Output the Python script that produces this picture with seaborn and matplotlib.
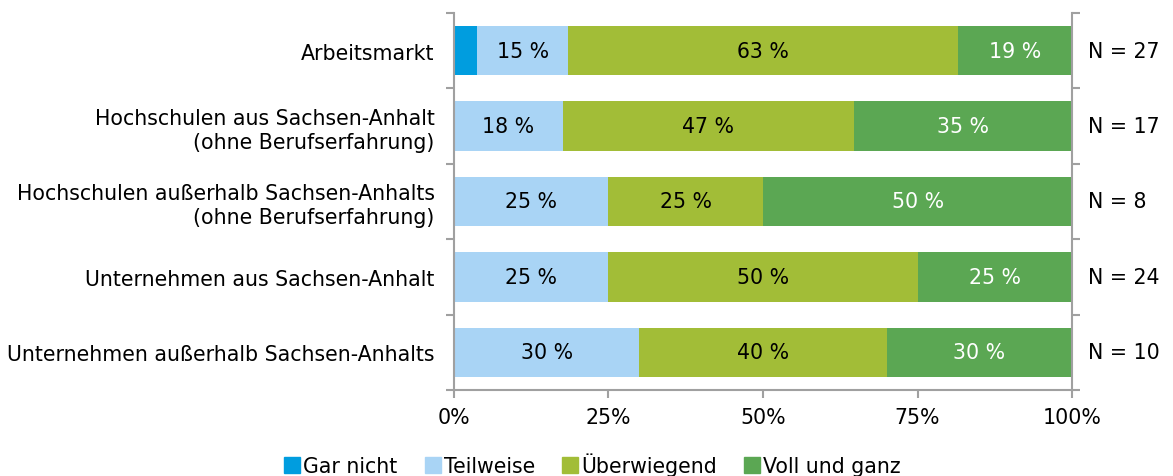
import numpy as np
import pandas as pd
import matplotlib
matplotlib.use("Agg")
import matplotlib.pyplot as plt
import matplotlib.transforms as mtransforms
from matplotlib.lines import Line2D
from matplotlib.ticker import FixedLocator
import seaborn as sns

categories = ["Arbeitsmarkt",
              "Hochschulen aus Sachsen-Anhalt\n(ohne Berufserfahrung)",
              "Hochschulen außerhalb Sachsen-Anhalts\n(ohne Berufserfahrung)",
              "Unternehmen aus Sachsen-Anhalt",
              "Unternehmen außerhalb Sachsen-Anhalts"]
series = ["Gar nicht", "Teilweise", "Überwiegend", "Voll und ganz"]
# counts per answer
gar_nicht = [1, 0, 0, 0, 0]
teilweise = [4, 3, 2, 6, 3]
ueberwiegend = [17, 8, 2, 12, 4]
voll_und_ganz = [5, 6, 4, 6, 3]
n_total = [27, 17, 8, 24, 10]

colors = ["#009ddf", "#a9d4f5", "#a2bd37", "#5ba753"]
text_colors = ["black", "black", "black", "white"]
axis_gray = "#a0a0a0"

plt.rcParams["font.family"] = ["DejaVu Sans"]
fs = 14.8

df = pd.DataFrame({"cat": categories, "Gar nicht": gar_nicht, "Teilweise": teilweise,
                   "Überwiegend": ueberwiegend, "Voll und ganz": voll_und_ganz, "N": n_total})
shares = df[series].div(df["N"], axis=0) * 100
cum = shares.cumsum(axis=1)

fig, ax = plt.subplots(figsize=(11.73, 4.77), dpi=100)
fig.subplots_adjust(left=0.387, right=0.914, top=0.971, bottom=0.180)

# draw cumulative totals from the largest down so the layers stack
for s, c in reversed(list(zip(series, colors))):
    sns.barplot(x=cum[s], y=df["cat"], color=c, orient="h", width=0.66,
                saturation=1, ax=ax, linewidth=0)

# percent labels
for i in range(len(categories)):
    for j, s in enumerate(series):
        v = shares.loc[i, s]
        if v >= 10:
            ax.text(cum.loc[i, s] - v / 2, i, f"{v:.0f} %", ha="center", va="center",
                    fontsize=fs, color=text_colors[j])

trans = mtransforms.blended_transform_factory(ax.transAxes, ax.transData)
for i, n in enumerate(n_total):
    ax.text(1.026, i, f"N = {n}", transform=trans, ha="left", va="center", fontsize=fs)

ax.set_xlim(0, 100)
ax.set_ylim(len(categories) - 0.5, -0.5)
ax.set_xticks([0, 25, 50, 75, 100])
ax.set_xticklabels(["0%", "25%", "50%", "75%", "100%"], fontsize=fs)
ax.set_xlabel("")
ax.set_ylabel("")
ax.tick_params(axis="y", which="major", length=0, pad=14, labelsize=fs)
for lab in ax.get_yticklabels():
    lab.set_linespacing(1.25)
ax.yaxis.set_minor_locator(FixedLocator(np.arange(-0.5, len(categories), 1.0)))
ax.tick_params(axis="y", which="minor", length=6, width=1.5, color=axis_gray,
               left=True, right=True)
ax.tick_params(axis="x", which="major", length=6, width=1.5, color=axis_gray, pad=6)
ax.spines["top"].set_visible(False)
for sp in ["left", "right", "bottom"]:
    ax.spines[sp].set_color(axis_gray)
    ax.spines[sp].set_linewidth(1.5)

handles = [Line2D([], [], marker="s", linestyle="", markersize=11, color=c) for c in colors]
fig.legend(handles, series, loc="center", bbox_to_anchor=(0.505, 0.025), ncol=4,
           frameon=False, fontsize=fs, handletextpad=0.15, columnspacing=1.3,
           handlelength=0.8)

fig.savefig("out.png", dpi=100)
